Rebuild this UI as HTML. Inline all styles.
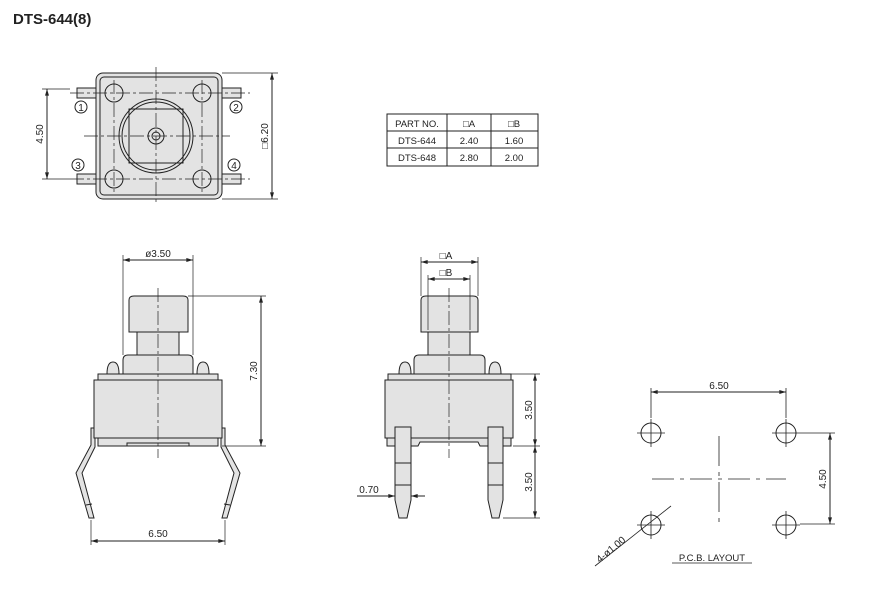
<!DOCTYPE html>
<html><head><meta charset="utf-8"><style>
html,body{margin:0;padding:0;background:#fff;}
svg{display:block;}
text{font-family:"Liberation Sans",sans-serif;fill:#222;}
</style></head><body>
<svg width="870" height="608" viewBox="0 0 870 608" xmlns="http://www.w3.org/2000/svg">
<defs>
<marker id="a" viewBox="0 0 10 6" refX="10" refY="3" markerWidth="7" markerHeight="4" orient="auto-start-reverse"><path d="M0,0L10,3L0,6z" fill="#222"/></marker>
</defs>
<text x="13" y="24" font-size="15" font-weight="bold">DTS-644(8)</text>

<!-- TOP VIEW -->
<g stroke="#222" stroke-width="1" fill="none">
<rect x="77" y="88" width="20" height="10" fill="#e3e3e3"/>
<rect x="221" y="88" width="20" height="10" fill="#e3e3e3"/>
<rect x="77" y="174" width="20" height="10" fill="#e3e3e3"/>
<rect x="221" y="174" width="20" height="10" fill="#e3e3e3"/>
<rect x="96" y="73" width="126" height="126" rx="7" fill="#e3e3e3"/>
<rect x="100" y="77" width="118" height="118" rx="4"/>
<circle cx="156" cy="136" r="37"/>
<circle cx="156" cy="136" r="34"/>
<rect x="129" y="109" width="54" height="54"/>
<circle cx="156" cy="136" r="8" fill="#e3e3e3"/>
<circle cx="156" cy="136" r="4"/>
<circle cx="114" cy="93" r="9"/><circle cx="202" cy="93" r="9"/>
<circle cx="114" cy="179" r="9"/><circle cx="202" cy="179" r="9"/>
<g stroke-width="0.7" stroke-dasharray="14,3,3,3">
<line x1="156" y1="67" x2="156" y2="205"/>
<line x1="84" y1="136" x2="230" y2="136"/>
<line x1="70" y1="93" x2="250" y2="93"/>
<line x1="70" y1="179" x2="250" y2="179"/>
<line x1="114" y1="80" x2="114" y2="192"/>
<line x1="202" y1="80" x2="202" y2="192"/>
</g>
<circle cx="81" cy="107" r="6"/><circle cx="236" cy="107" r="6"/>
<circle cx="78" cy="165" r="6"/><circle cx="234" cy="165" r="6"/>
<line x1="42" y1="89" x2="70" y2="89" stroke-width="0.7"/>
<line x1="42" y1="179" x2="70" y2="179" stroke-width="0.7"/>
<line x1="47" y1="89" x2="47" y2="179" marker-start="url(#a)" marker-end="url(#a)"/>
<line x1="222" y1="73" x2="278" y2="73" stroke-width="0.7"/>
<line x1="222" y1="199" x2="278" y2="199" stroke-width="0.7"/>
<line x1="272" y1="73" x2="272" y2="199" marker-start="url(#a)" marker-end="url(#a)"/>
</g>
<g font-size="10" text-anchor="middle">
<text x="81" y="111">1</text><text x="236" y="111">2</text>
<text x="78" y="169">3</text><text x="234" y="169">4</text>
<text transform="translate(43,134) rotate(-90)">4.50</text>
<text transform="translate(268,136) rotate(-90)">□6.20</text>
</g>

<!-- TABLE -->
<g stroke="#222" fill="none" stroke-width="1">
<rect x="387" y="114" width="151" height="52"/>
<line x1="387" y1="131" x2="538" y2="131"/>
<line x1="387" y1="148" x2="538" y2="148"/>
<line x1="447" y1="114" x2="447" y2="166"/>
<line x1="491" y1="114" x2="491" y2="166"/>
</g>
<g font-size="9.5" text-anchor="middle">
<text x="417" y="127">PART NO.</text><text x="469" y="127">□A</text><text x="514" y="127">□B</text>
<text x="417" y="144">DTS-644</text><text x="469" y="144">2.40</text><text x="514" y="144">1.60</text>
<text x="417" y="161">DTS-648</text><text x="469" y="161">2.80</text><text x="514" y="161">2.00</text>
</g>

<!-- SIDE VIEW 1 -->
<g stroke="#222" stroke-width="1" fill="#e3e3e3">
<path d="M91,428 L95,428 L95,447 L82,473 L94,518 L89,518 L76,473 L91,445 Z"/>
<path d="M225,428 L221,428 L221,447 L234,473 L222,518 L227,518 L240,473 L225,445 Z"/>
<line x1="86" y1="505" x2="92" y2="504" fill="none"/>
<line x1="230" y1="505" x2="224" y2="504" fill="none"/>
<path d="M123,375 L123,360 Q123,355 128,355 L188,355 Q193,355 193,360 L193,375 Z"/>
<rect x="137" y="332" width="42" height="23"/>
<path d="M129,332 L129,300 Q129,296 134,296 L183,296 Q188,296 188,300 L188,332 Z"/>
<path d="M107,374 Q107,362 113,362 Q119,362 119,374 Z"/>
<path d="M197,374 Q197,362 203,362 Q209,362 209,374 Z"/>
<rect x="98" y="374" width="120" height="6"/>
<rect x="94" y="380" width="128" height="58"/>
<rect x="98" y="438" width="120" height="8"/>
<rect x="127" y="443" width="62" height="3"/>
</g>
<g stroke="#222" stroke-width="0.7" fill="none">
<line x1="158" y1="288" x2="158" y2="458" stroke-dasharray="14,3,3,3"/>
<line x1="123" y1="255" x2="123" y2="355"/>
<line x1="193" y1="255" x2="193" y2="355"/>
<line x1="123" y1="260" x2="193" y2="260" stroke-width="1" marker-start="url(#a)" marker-end="url(#a)"/>
<line x1="188" y1="296" x2="266" y2="296"/>
<line x1="222" y1="446" x2="266" y2="446"/>
<line x1="261" y1="296" x2="261" y2="446" stroke-width="1" marker-start="url(#a)" marker-end="url(#a)"/>
<line x1="91" y1="520" x2="91" y2="545"/>
<line x1="225" y1="520" x2="225" y2="545"/>
<line x1="91" y1="541" x2="225" y2="541" stroke-width="1" marker-start="url(#a)" marker-end="url(#a)"/>
</g>
<g font-size="10" text-anchor="middle">
<text x="158" y="257">ø3.50</text>
<text transform="translate(257,371) rotate(-90)">7.30</text>
<text x="158" y="537">6.50</text>
</g>

<!-- SIDE VIEW 2 -->
<g stroke="#222" stroke-width="1" fill="#e3e3e3">
<path d="M414,375 L414,360 Q414,355 419,355 L480,355 Q485,355 485,360 L485,375 Z"/>
<rect x="428" y="332" width="42" height="23"/>
<path d="M421,332 L421,300 Q421,296 426,296 L473,296 Q478,296 478,300 L478,332 Z"/>
<path d="M399,374 Q399,362 405,362 Q411,362 411,374 Z"/>
<path d="M489,374 Q489,362 495,362 Q501,362 501,374 Z"/>
<rect x="388" y="374" width="123" height="6"/>
<rect x="385" y="380" width="128" height="58"/>
<path d="M387,438 L511,438 L511,446 L480,446 L478,442 L420,442 L418,446 L387,446 Z"/>
<path d="M395,427 L411,427 L411,500 L407,518 L399,518 L395,500 Z"/>
<path d="M488,427 L503,427 L503,500 L499,518 L492,518 L488,500 Z"/>
<line x1="395" y1="463" x2="411" y2="463"/><line x1="488" y1="463" x2="503" y2="463"/>
<line x1="395" y1="485" x2="411" y2="485"/><line x1="488" y1="485" x2="503" y2="485"/>
</g>
<g stroke="#222" stroke-width="0.7" fill="none">
<line x1="449" y1="288" x2="449" y2="458" stroke-dasharray="14,3,3,3"/>
<line x1="421" y1="257" x2="421" y2="296"/>
<line x1="478" y1="257" x2="478" y2="296"/>
<line x1="428" y1="275" x2="428" y2="330"/>
<line x1="470" y1="275" x2="470" y2="330"/>
<line x1="421" y1="262" x2="478" y2="262" stroke-width="1" marker-start="url(#a)" marker-end="url(#a)"/>
<line x1="428" y1="279" x2="470" y2="279" stroke-width="1" marker-start="url(#a)" marker-end="url(#a)"/>
<line x1="511" y1="374" x2="540" y2="374"/>
<line x1="513" y1="446" x2="540" y2="446"/>
<line x1="503" y1="518" x2="540" y2="518"/>
<line x1="535" y1="374" x2="535" y2="446" stroke-width="1" marker-start="url(#a)" marker-end="url(#a)"/>
<line x1="535" y1="446" x2="535" y2="518" stroke-width="1" marker-start="url(#a)" marker-end="url(#a)"/>
<line x1="357" y1="496" x2="395" y2="496" stroke-width="1" marker-end="url(#a)"/>
<line x1="425" y1="496" x2="411" y2="496" stroke-width="1" marker-end="url(#a)"/>
</g>
<g font-size="10" text-anchor="middle">
<text x="446" y="259">□A</text>
<text x="446" y="276">□B</text>
<text transform="translate(532,410) rotate(-90)">3.50</text>
<text transform="translate(532,482) rotate(-90)">3.50</text>
<text x="369" y="493">0.70</text>
</g>

<!-- PCB LAYOUT -->
<g stroke="#222" stroke-width="1" fill="none">
<circle cx="651" cy="433" r="10"/><circle cx="786" cy="433" r="10"/>
<circle cx="651" cy="525" r="10"/><circle cx="786" cy="525" r="10"/>
<g stroke-width="0.8">
<line x1="637" y1="433" x2="665" y2="433"/><line x1="651" y1="419" x2="651" y2="447"/>
<line x1="772" y1="433" x2="800" y2="433"/><line x1="786" y1="419" x2="786" y2="447"/>
<line x1="637" y1="525" x2="665" y2="525"/><line x1="651" y1="511" x2="651" y2="539"/>
<line x1="772" y1="525" x2="800" y2="525"/><line x1="786" y1="511" x2="786" y2="539"/>
<line x1="652" y1="479" x2="786" y2="479" stroke-dasharray="22,6,4,6"/>
<line x1="719" y1="436" x2="719" y2="524" stroke-dasharray="30,6,4,6"/>
<line x1="651" y1="388" x2="651" y2="418"/>
<line x1="786" y1="388" x2="786" y2="418"/>
<line x1="800" y1="433" x2="835" y2="433"/>
<line x1="800" y1="524" x2="835" y2="524"/>
<line x1="595" y1="566" x2="671" y2="506"/>
</g>
<line x1="651" y1="392" x2="786" y2="392" marker-start="url(#a)" marker-end="url(#a)"/>
<line x1="830" y1="433" x2="830" y2="524" marker-start="url(#a)" marker-end="url(#a)"/>
<line x1="672" y1="563" x2="752" y2="563" stroke-width="0.8"/>
</g>
<g font-size="10" text-anchor="middle">
<text x="719" y="389">6.50</text>
<text transform="translate(826,479) rotate(-90)">4.50</text>
<text transform="translate(613,552) rotate(-40)">4-ø1.00</text>
<text x="712" y="561" font-size="9.5">P.C.B.  LAYOUT</text>
</g>
</svg>
</body></html>
